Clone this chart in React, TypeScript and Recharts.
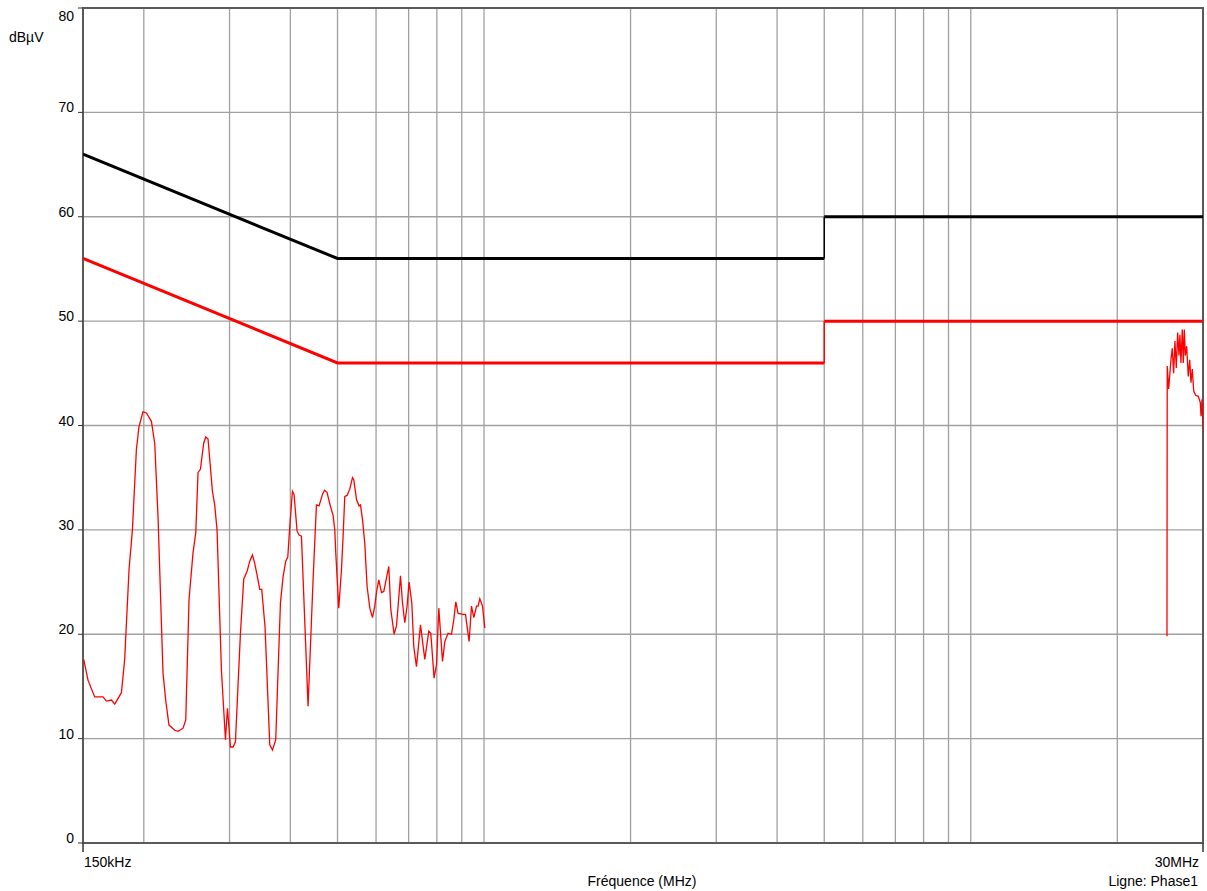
import React from 'react';
import {
  LineChart,
  Line,
  XAxis,
  YAxis,
  CartesianGrid,
  ReferenceArea,
} from 'recharts';

// frequencies in MHz, levels in dBµV
const gridFreqs = [0.15, 0.2, 0.3, 0.4, 0.5, 0.6, 0.7, 0.8, 0.9, 1, 2, 3, 4, 5, 6, 7, 8, 9, 10, 20, 30];
const levelTicks = [0, 10, 20, 30, 40, 50, 60, 70, 80];

// EN 55022 class B limits
const qpSlopeFreq = [0.15, 0.5, 5];
const qpSlopeLevel = [66, 56, 56];
const qpHighFreq = [5, 30];
const qpHighLevel = [60, 60];
const qpStepFreq = [5, 5];
const qpStepLevel = [56, 60];

const avSlopeFreq = [0.15, 0.5, 5];
const avSlopeLevel = [56, 46, 46];
const avHighFreq = [5, 30];
const avHighLevel = [50, 50];
const avStepFreq = [5, 5];
const avStepLevel = [46, 50];

// measured trace, low band
const lowFreq = [
  0.1505, 0.1536, 0.1585, 0.1649, 0.1676, 0.1716, 0.1743, 0.1799, 0.1827, 0.1865,
  0.1895, 0.1931, 0.1955, 0.1992, 0.2025, 0.2073, 0.2106, 0.2139, 0.219, 0.2218,
  0.2253, 0.2315, 0.2351, 0.2408, 0.2439, 0.2477, 0.2524, 0.2557, 0.2585, 0.2614,
  0.2655, 0.2681, 0.271, 0.2767, 0.2797, 0.2828, 0.2887, 0.2943, 0.2971, 0.3013,
  0.3051, 0.3085, 0.3159, 0.3209, 0.3259, 0.3301, 0.3344, 0.338, 0.3417, 0.3461,
  0.3494, 0.3549, 0.3629, 0.3676, 0.3733, 0.3817, 0.3865, 0.3914, 0.3952, 0.3989,
  0.404, 0.4071, 0.4129, 0.4169, 0.4216, 0.435, 0.4454, 0.4526, 0.4582, 0.4657,
  0.4701, 0.4759, 0.482, 0.4896, 0.4936, 0.4959, 0.503, 0.5095, 0.5134, 0.5175,
  0.5232, 0.5299, 0.5367, 0.54, 0.547, 0.5537, 0.5574, 0.5627, 0.5689, 0.5751,
  0.5825, 0.59, 0.5964, 0.6012, 0.6078, 0.6156, 0.6224, 0.6304, 0.6373, 0.6433,
  0.6535, 0.6609, 0.666, 0.6736, 0.68, 0.6874, 0.6949, 0.7015, 0.7106, 0.7173,
  0.7265, 0.7404, 0.7556, 0.7701, 0.7774, 0.7896, 0.7987, 0.8074, 0.8217, 0.8307,
  0.8437, 0.8574, 0.8668, 0.875, 0.8846, 0.9058, 0.9161, 0.9319, 0.9425, 0.9528,
  0.9651, 0.9724, 0.9803, 0.9929, 1.0037,
];
const lowLevel = [
  17.6, 15.6, 14.0, 14.0, 13.6, 13.7, 13.3, 14.4, 17.6, 26.2,
  30.0, 37.7, 39.9, 41.3, 41.2, 40.4, 38.3, 31.3, 16.3, 13.7,
  11.3, 10.8, 10.7, 11.0, 11.8, 23.3, 27.8, 29.7, 35.5, 35.8,
  38.3, 38.9, 38.7, 33.7, 32.4, 30.0, 16.6, 9.9, 12.9, 9.2,
  9.2, 9.7, 20.1, 25.3, 26.0, 27.0, 27.6, 26.8, 25.7, 24.3,
  24.3, 20.7, 9.4, 8.9, 9.9, 23.0, 25.5, 27.0, 27.4, 30.3,
  33.7, 33.4, 29.9, 29.5, 29.4, 13.1, 25.2, 32.4, 32.3, 33.4,
  33.8, 33.6, 32.5, 31.4, 30.0, 27.8, 22.5, 26.2, 29.4, 33.2,
  33.3, 33.9, 35.0, 34.8, 32.9, 32.3, 32.4, 31.0, 28.7, 24.6,
  22.5, 21.6, 22.7, 24.0, 25.2, 24.0, 24.1, 25.4, 26.5, 22.4,
  20.0, 20.8, 22.7, 25.6, 23.0, 21.1, 22.7, 25.0, 23.0, 18.8,
  16.9, 20.9, 17.6, 20.3, 20.1, 15.8, 17.1, 22.5, 17.4, 19.3,
  20.1, 20.0, 21.4, 23.1, 22.0, 21.9, 21.9, 19.3, 22.7, 21.6,
  22.7, 22.7, 23.4, 22.7, 20.6,
];

// measured trace, high band
const highFreq = [
  25.3, 25.33, 25.5, 25.78, 25.94, 26.11, 26.27, 26.44, 26.61, 26.78,
  26.9, 27.03, 27.2, 27.33, 27.46, 27.59, 27.77, 27.98, 28.17, 28.34,
  28.52, 28.71, 28.98, 29.34, 29.62, 29.72, 29.86, 30.0,
];
const highLevel = [
  19.8, 45.7, 43.5, 46.3, 47.4, 45.0, 48.1, 45.5, 48.9, 46.7,
  48.7, 46.0, 49.2, 46.0, 49.2, 46.7, 47.6, 44.7, 46.3, 44.1,
  45.4, 43.3, 42.9, 42.8, 42.2, 40.9, 42.5, 39.6,
];

const zip = (xs: number[], ys: number[]) => xs.map((x, i) => ({ x, y: ys[i] }));

const FONT = '"Liberation Sans", Arial, sans-serif';

const LevelTick = (props: any) => {
  const { x, y, payload } = props;
  const dy = payload.value === 80 ? 13 : 0;
  return (
    <text x={x} y={y + dy} textAnchor="end" fontSize={14} fontFamily={FONT} fill="#000">
      {payload.value}
    </text>
  );
};

const FreqTick = (props: any) => {
  const { x, y, payload } = props;
  const v = payload.value;
  if (v !== 0.15 && v !== 30) return <g />;
  const first = v === 0.15;
  return (
    <g>
      <line x1={x} x2={x} y1={y} y2={y + 9} stroke="#333" strokeWidth={1.5} />
      <text
        x={first ? x + 1 : x - 4}
        y={y + 24}
        textAnchor={first ? 'start' : 'end'}
        fontSize={14}
        fontFamily={FONT}
        fill="#000"
      >
        {first ? '150kHz' : '30MHz'}
      </text>
    </g>
  );
};

export default function App() {
  return (
    <div style={{ position: 'absolute', left: 0, top: 0, width: 1207, height: 891, background: '#fff' }}>
      <LineChart
        width={1207}
        height={891}
        margin={{ top: 8, right: 4, left: 23, bottom: 18 }}
      >
        <CartesianGrid stroke="#a0a0a0" strokeWidth={1.3} />
        <XAxis
          dataKey="x"
          type="number"
          scale="log"
          domain={[0.15, 30]}
          ticks={gridFreqs}
          interval={0}
          allowDataOverflow
          axisLine={false}
          tickLine={false}
          tickSize={0}
          tickMargin={0}
          height={30}
          tick={<FreqTick />}
        />
        <YAxis
          type="number"
          domain={[0, 80]}
          ticks={levelTicks}
          interval={0}
          width={60}
          axisLine={false}
          tickLine={{ stroke: '#333' }}
          tickSize={5}
          tickMargin={4}
          tick={<LevelTick />}
        />
        <ReferenceArea x1={0.15} x2={30} y1={0} y2={80} fill="none" stroke="#5a5a5a" strokeWidth={2} />

        <Line data={zip(qpSlopeFreq, qpSlopeLevel)} dataKey="y" stroke="#000" strokeWidth={3} dot={false} isAnimationActive={false} />
        <Line data={zip(qpHighFreq, qpHighLevel)} dataKey="y" stroke="#000" strokeWidth={3} dot={false} isAnimationActive={false} />
        <Line data={zip(qpStepFreq, qpStepLevel)} dataKey="y" stroke="#000" strokeWidth={1.5} dot={false} isAnimationActive={false} />

        <Line data={zip(avSlopeFreq, avSlopeLevel)} dataKey="y" stroke="#ff0000" strokeWidth={3} dot={false} isAnimationActive={false} />
        <Line data={zip(avHighFreq, avHighLevel)} dataKey="y" stroke="#ff0000" strokeWidth={3} dot={false} isAnimationActive={false} />
        <Line data={zip(avStepFreq, avStepLevel)} dataKey="y" stroke="#ff0000" strokeWidth={1.5} dot={false} isAnimationActive={false} />

        <Line data={zip(lowFreq, lowLevel)} dataKey="y" stroke="#ff0000" strokeWidth={1.3} dot={false} isAnimationActive={false} />
        <Line data={zip(highFreq, highLevel)} dataKey="y" stroke="#ff0000" strokeWidth={1.3} dot={false} isAnimationActive={false} />
      </LineChart>
      <svg
        width={1207}
        height={891}
        style={{ position: 'absolute', left: 0, top: 0, pointerEvents: 'none' }}
      >
        <text x={9} y={42} fontSize={14} fontFamily={FONT} fill="#000">dBµV</text>
        <text x={642} y={886} textAnchor="middle" fontSize={14} fontFamily={FONT} fill="#000">Fréquence (MHz)</text>
        <text x={1198} y={886} textAnchor="end" fontSize={14} fontFamily={FONT} fill="#000">Ligne: Phase1</text>
      </svg>
    </div>
  );
}
